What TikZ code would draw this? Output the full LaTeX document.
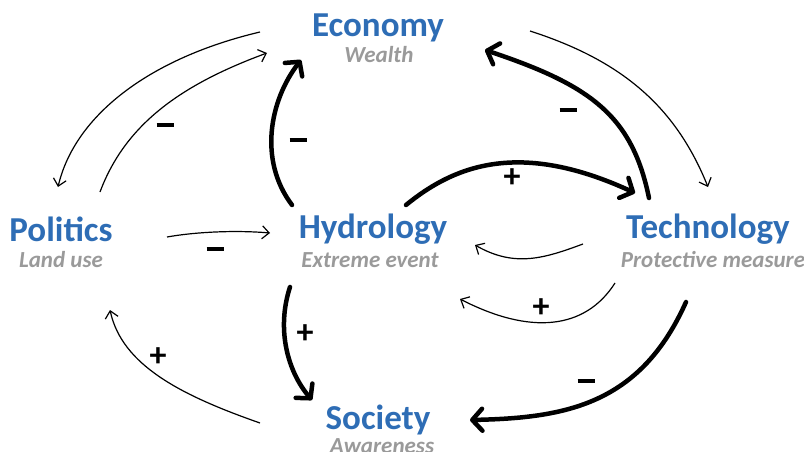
\documentclass[tikz,border=0pt]{standalone}
\usepackage{fontspec}
\setmainfont{Carlito}
\usetikzlibrary{arrows.meta}
\definecolor{tblue}{HTML}{2E6DB5}
\definecolor{tgrey}{HTML}{9A9A9A}
\newcommand{\mysign}{\rule{17pt}{3.5pt}}
\tikzset{
  title/.style={text=tblue,font=\fontsize{35}{38}\selectfont\bfseries,inner sep=0pt},
  sub/.style={text=tgrey,font=\fontsize{23}{25}\selectfont\bfseries\itshape,inner sep=0pt},
  sign/.style={font=\fontsize{34}{36}\selectfont\bfseries,inner sep=0pt},
  thin/.style={line width=1.2pt,-{Straight Barb[length=7pt,width=13pt,line width=1.2pt]}},
  thick/.style={line width=4.5pt,line cap=round,-{Straight Barb[length=10pt,width=22pt,line width=4.5pt,round]}},
}
\begin{document}
\begin{tikzpicture}[x=1pt,y=-1pt]
\useasboundingbox (0,0) rectangle (804,452);
% nodes
\node[title] (eco) at (378,28) {Economy};
\node[sub] (ecos) at (379,55) {Wealth};
\node[title] (pol) at (61,229) {Politics};
\node[sub] (pols) at (61,260) {Land use};
\node[title] (hyd) at (373,229) {Hydrology};
\node[sub] (hyds) at (370,260) {Extreme event};
\node[title] (tec) at (708,229) {Technology};
\node[sub] (tecs) at (713,260) {Protective measure};
\node[title] (soc) at (378,420) {Society};
\node[sub] (socs) at (382,446) {Awareness};
% connector endpoints
\coordinate (a1) at (260,32); \coordinate (b1) at (58,187);
\coordinate (a2) at (100,192); \coordinate (b2) at (267,53);
\coordinate (a3) at (292,205); \coordinate (b3) at (301,60);
\coordinate (a4) at (649,198); \coordinate (b4) at (485,50);
\coordinate (a5) at (530,31); \coordinate (b5) at (708,187);
\coordinate (a6) at (406,205); \coordinate (b6) at (635,193);
\coordinate (a7) at (167,237); \coordinate (b7) at (270,233);
\coordinate (a8) at (583,244); \coordinate (b8) at (475,245);
\coordinate (a9) at (615,283); \coordinate (b9) at (460,299);
\coordinate (a10) at (290,287); \coordinate (b10) at (312,400);
\coordinate (a11) at (260,423); \coordinate (b11) at (110,310);
\coordinate (a12) at (686,302); \coordinate (b12) at (470,420);
% connectors
\draw[thin] (a1) .. controls (150,58) and (75,115) .. (b1);
\draw[thin] (a2) .. controls (125,125) and (180,85) .. (b2);
\draw[thick] (a3) .. controls (258,160) and (270,100) .. (b3);
\draw[thick] (a4) .. controls (632,115) and (590,85) .. (b4);
\draw[thin] (a5) .. controls (620,60) and (675,105) .. (b5);
\draw[thick] (a6) .. controls (455,165) and (520,140) .. (b6);
\draw[thin] (a7) .. controls (195,232) and (235,230) .. (b7);
\draw[thin] (a8) .. controls (545,258) and (515,268) .. (b8);
\draw[thin] (a9) .. controls (585,330) and (530,335) .. (b9);
\draw[thick] (a10) .. controls (276,330) and (288,372) .. (b10);
\draw[thin] (a11) .. controls (180,395) and (122,365) .. (b11);
\draw[thick] (a12) .. controls (640,405) and (565,418) .. (b12);
% signs
\node[sign] (s2) at (165,125) {\mysign};
\node[sign] (s3) at (298,140) {\mysign};
\node[sign] (s4) at (568,110) {\mysign};
\node[sign] (s6) at (512,178) {+};
\node[sign] (s7) at (215,249) {\mysign};
\node[sign] (s9) at (541,308) {+};
\node[sign] (s10) at (305,334) {+};
\node[sign] (s11) at (158,357) {+};
\node[sign] (s12) at (586,381) {\mysign};
\end{tikzpicture}
\end{document}
